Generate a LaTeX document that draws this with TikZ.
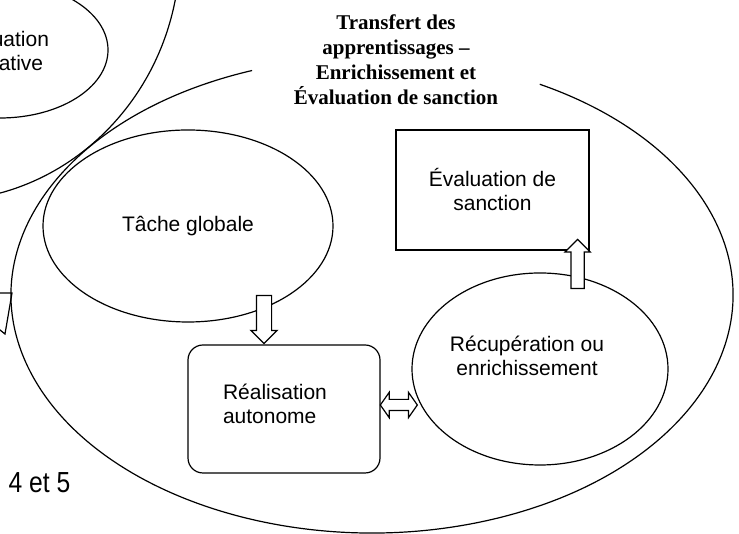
\documentclass[tikz,border=0pt]{standalone}
\usepackage{fontspec}
\setmainfont{Liberation Serif}
\setsansfont{Liberation Sans}
\usetikzlibrary{shapes.geometric, shapes.arrows, positioning, calc}
\tikzset{
	every node/.style={font=\sffamily\fontsize{21}{24}\selectfont, align=center},
	bulle/.style={ellipse, draw},
	boite/.style={rectangle, draw},
	titre/.style={font=\rmfamily\bfseries\fontsize{21}{25}\selectfont},
	fleche/.style={single arrow, draw, fill=white, inner sep=7pt, single arrow head extend=5.5pt, minimum height=48pt},
	doublefleche/.style={double arrow, draw, fill=white, inner sep=5pt, double arrow head extend=7pt, double arrow tip angle=110, minimum height=37pt},
}

\begin{document}
\begin{tikzpicture}[x=1pt, y=1pt, line width=1.2pt]
	\useasboundingbox (0,0) rectangle (739,534);
	\clip (0,0) rectangle (739,534);
	% stages cut off at the left
	\node[bulle, minimum width=480pt, minimum height=502pt] (ETAPE) at (-60,584) {};
	\node[bulle, minimum width=216pt, minimum height=136pt] (FORMATIVE) at (0,484) {Évaluation\\formative};
	\draw (-10,241) -- (12,241) -- (5,200) -- (-10,212);
	\node[anchor=west, inner sep=0pt] (SEANCES) at (8,51) {\scalebox{0.85}[1]{\fontsize{29}{30}\selectfont 4 et 5}};
	% big stage
	\coordinate (CENTRE) at (372,239);
	\draw ([shift={(109.4:361pt and 238pt)}]CENTRE) arc[start angle=109.4, end angle=422.3, x radius=361pt, y radius=238pt];
	\node[titre] (TITRE) at (396,474.5) {Transfert des\\apprentissages –\\Enrichissement et\\Évaluation de sanction};
	\node[bulle, minimum width=290pt, minimum height=192pt] (TACHE) at (188,308) {Tâche globale};
	\node[boite, rounded corners=15pt, minimum width=192pt, minimum height=128pt] (REALISATION) at (284,125) {};
	\node[text width=122pt, align=left] (REALTXT) at ($(REALISATION)+(0,5)$) {Réalisation\\autonome};
	\node[boite, minimum width=193pt, minimum height=120pt] (SANCTION) at (492.5,344) {Évaluation de\\sanction};
	\node[bulle, minimum width=256pt, minimum height=192pt] (RECUP) at (540,165) {};
	\node (RECUPTXT) at ($(RECUP)+(-13,13)$) {Récupération ou\\enrichissement};
	% arrows
	\node[fleche, shape border rotate=270, anchor=tip] (VERS_REAL) at ([xshift=-20pt]REALISATION.north) {};
	\node[fleche, shape border rotate=90, inner sep=6pt, single arrow head extend=6pt, minimum height=49pt, anchor=tip] (VERS_SANC) at ([shift={(-12pt,12pt)}]SANCTION.south east) {};
	\node[doublefleche, anchor=tip 2] (ECHANGE) at ([shift={(-1pt,4pt)}]REALISATION.east) {};
\end{tikzpicture}
\end{document}
